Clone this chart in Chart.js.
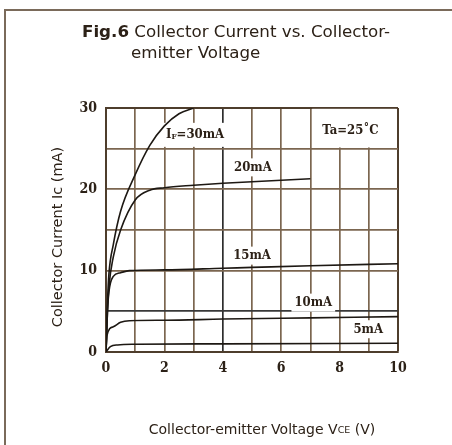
<!DOCTYPE html>
<html>
<head>
<meta charset="utf-8">
<script src="https://cdn.jsdelivr.net/npm/chart.js@4/dist/chart.umd.min.js"></script>
<style>
  html, body { margin: 0; padding: 0; background: #fff; }
  #frame { position: absolute; left: 4px; top: 9px; right: 0; bottom: 0;
           border-top: 2px solid #7a6a5a; border-left: 2px solid #7a6a5a; }
  #chart { position: absolute; left: 0; top: 0; }
</style>
</head>
<body>
<div id="frame"></div>
<canvas id="chart" width="452" height="445"></canvas>
<script>
// curves, Vce in V, Ic in mA
const vce30 = [0, 0.05, 0.1, 0.25, 0.5, 1, 1.5, 2, 2.5, 3];
const ic30  = [0, 6, 9.6, 13.2, 17.3, 21.8, 25.4, 27.8, 29.3, 30];
const vce20 = [0, 0.05, 0.1, 0.25, 0.5, 1, 1.5, 2, 3, 4, 7];
const ic20  = [0, 5, 8, 11.7, 15, 18.7, 19.9, 20.2, 20.5, 20.75, 21.3];
const vce15 = [0, 0.05, 0.1, 0.25, 0.5, 0.8, 2, 4, 5, 7, 10];
const ic15  = [0, 5, 7.4, 9.3, 9.75, 10, 10.1, 10.3, 10.4, 10.6, 10.85];
const vce10 = [0, 0.03, 0.25, 0.5, 0.8, 2, 4, 7, 10];
const ic10  = [0, 2, 3.1, 3.65, 3.85, 3.9, 4.05, 4.2, 4.35];
const vce5  = [0, 0.15, 0.4, 1, 4, 10];
const ic5   = [0, 0.65, 0.87, 0.95, 1.0, 1.08];

const curveLabels = ['IF=30mA', '20mA', '15mA', '10mA', '5mA'];
const xTicks = [0, 2, 4, 6, 8, 10];
const yTicks = [0, 10, 20, 30];

const ink = '#2c2117';
const gridBrown = '#7b6650';
const serif = '"DejaVu Serif Condensed","Liberation Serif",serif';
const sans = '"DejaVu Sans","Liberation Sans",Arial,sans-serif';

// where the curve labels sit, in data units
const labelSpots = [[3.05, 26.7], [5.03, 22.7], [5.0, 11.85], [7.1, 6.07], [8.98, 2.8]];

function pts(xs, ys) { return xs.map((v, i) => ({ x: v, y: ys[i] })); }

function rich(ctx, parts, cx, cy) {
  // parts: [text, font, dy]
  let w = 0;
  parts.forEach(p => { ctx.font = p[1]; w += ctx.measureText(p[0]).width; });
  let x = cx - w / 2;
  ctx.textAlign = 'left';
  parts.forEach(p => { ctx.font = p[1]; ctx.fillText(p[0], x, cy + (p[2] || 0)); x += ctx.measureText(p[0]).width; });
  return w;
}

function labelParts(txt) {
  const f = 'bold 13px ' + serif;
  if (txt.startsWith('IF')) return [['I', f], ['F', 'bold 8px ' + serif, 2], [txt.slice(2), f]];
  return [[txt, f]];
}

const notes = {
  id: 'notes',
  beforeDatasetsDraw(chart) {
    const { ctx, scales: { x, y } } = chart;
    ctx.save();
    ctx.fillStyle = '#fff';
    ctx.textBaseline = 'middle';
    curveLabels.forEach((t, i) => {
      const cx = x.getPixelForValue(labelSpots[i][0]);
      const cy = y.getPixelForValue(labelSpots[i][1]);
      let w = 0;
      labelParts(t).forEach(p => { ctx.font = p[1]; w += ctx.measureText(p[0]).width; });
      const up = i === 0 ? 12 : 9, down = i === 0 ? 12 : 9;
      ctx.fillRect(cx - w / 2 - 3, cy - up, w + 6, up + down);
    });
    // box behind the temperature note
    const l = x.getPixelForValue(7.06), r = x.getPixelForValue(9.96);
    const t = y.getPixelForValue(29.9), b = y.getPixelForValue(25.15);
    ctx.fillRect(l, t, r - l, b - t);
    ctx.restore();
  },
  afterDatasetsDraw(chart) {
    const { ctx, scales: { x, y } } = chart;
    ctx.save();
    ctx.fillStyle = ink;
    ctx.textBaseline = 'middle';
    curveLabels.forEach((t, i) => {
      rich(ctx, labelParts(t), x.getPixelForValue(labelSpots[i][0]), y.getPixelForValue(labelSpots[i][1]));
    });
    rich(ctx, [['Ta=25\u02DAC', 'bold 13px ' + serif]], x.getPixelForValue(8.37), y.getPixelForValue(27.2));
    ctx.restore();
  },
  afterDraw(chart) {
    const ctx = chart.ctx;
    ctx.save();
    ctx.fillStyle = ink;
    ctx.textBaseline = 'alphabetic';
    ctx.textAlign = 'left';
    ctx.font = 'bold 16.7px ' + sans;
    ctx.fillText('Fig.6', 82, 37);
    const w = ctx.measureText('Fig.6').width;
    ctx.font = '16.7px ' + sans;
    ctx.fillText(' Collector Current vs. Collector-', 82 + w, 37);
    ctx.fillText('emitter Voltage', 131, 58);
    // y title
    ctx.save();
    ctx.translate(58, 237);
    ctx.rotate(-Math.PI / 2);
    ctx.textAlign = 'center';
    ctx.textBaseline = 'middle';
    ctx.font = '14.5px ' + sans;
    ctx.fillText('Collector Current Ic (mA)', 0, 0);
    ctx.restore();
    // x title
    ctx.textBaseline = 'middle';
    rich(ctx, [['Collector-emitter Voltage V', '14px ' + sans], ['CE', '9.5px ' + sans, 1], [' (V)', '14px ' + sans]], 262, 430);
    ctx.restore();
  }
};

const series = [[vce30, ic30], [vce20, ic20], [vce15, ic15], [vce10, ic10], [vce5, ic5]];

new Chart(document.getElementById('chart'), {
  type: 'scatter',
  data: {
    datasets: series.map((s, i) => ({
      label: curveLabels[i],
      data: pts(s[0], s[1]),
      showLine: true,
      borderColor: '#1d1813',
      borderWidth: 1.6,
      pointRadius: 0,
      fill: false,
      cubicInterpolationMode: 'monotone'
    }))
  },
  options: {
    responsive: false,
    animation: false,
    devicePixelRatio: 1,
    layout: { padding: { top: 108, right: 54, left: 0, bottom: 0 } },
    plugins: { legend: { display: false }, tooltip: { enabled: false } },
    scales: {
      x: {
        type: 'linear', min: 0, max: 10,
        afterFit(s) { s.height = 93; },
        border: { color: '#4e3d2c', width: 2 },
        grid: {
          drawTicks: false,
          color: c => c.tick.value === 4 ? '#2e2e2e' : (c.tick.value === 10 ? '#4e3d2c' : gridBrown),
          lineWidth: c => (c.tick.value === 10 ? 2 : 1.7)
        },
        ticks: {
          stepSize: 1, autoSkip: false, maxRotation: 0, padding: 8, color: ink,
          font: { family: serif, size: 14, weight: 'bold' },
          callback: v => xTicks.includes(v) ? v : ''
        }
      },
      y: {
        type: 'linear', min: 0, max: 30,
        afterFit(s) { s.width = 106; },
        border: { color: '#4e3d2c', width: 2 },
        grid: {
          drawTicks: false,
          color: c => c.tick.value === 5 ? '#383838' : (c.tick.value === 30 ? '#4e3d2c' : gridBrown),
          lineWidth: c => (c.tick.value === 30 ? 2 : 1.7)
        },
        ticks: {
          stepSize: 5, padding: 9, color: ink,
          font: { family: serif, size: 14, weight: 'bold' },
          callback: v => yTicks.includes(v) ? v : ''
        }
      }
    }
  },
  plugins: [notes]
});
</script>
</body>
</html>
